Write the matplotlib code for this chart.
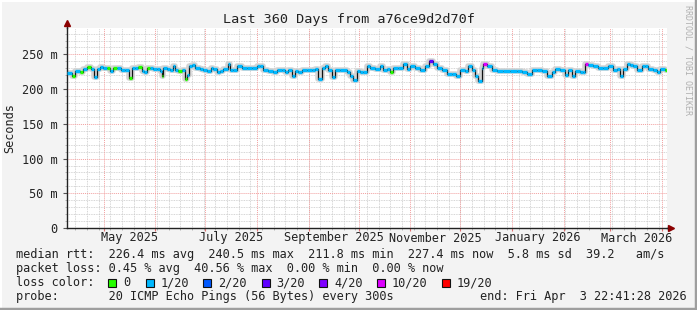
import datetime as dt
import matplotlib
matplotlib.use("Agg")
import matplotlib.pyplot as plt
from matplotlib.patches import Rectangle
from matplotlib.lines import Line2D
from matplotlib.transforms import blended_transform_factory

plt.rcParams['font.family'] = ['DejaVu Sans Mono']

# time axis: days since start of the 360 day window
start = dt.datetime(2025, 4, 8, 22, 41, 28)
end = dt.datetime(2026, 4, 3, 22, 41, 28)

days = [0, 3, 4.8, 7.8, 9.6, 12, 14.4, 16.2, 18, 19.8,
        21.6, 24, 25.8, 27.6, 30, 32.4, 34.8, 37.2, 39, 40.8,
        42.6, 45, 46.2, 48, 49.8, 51.6, 54, 55.8, 57, 57.6,
        60, 61.8, 63.6, 64.8, 66.6, 69, 70.8, 72, 73.2, 75,
        76.8, 79.8, 81.6, 84, 86.4, 87.6, 90, 91.8, 93.6, 96.6,
        97.8, 99.6, 102, 105, 108, 111, 114, 115.8, 117.6, 120.6,
        123.6, 126, 129, 130.8, 132.6, 135, 136.8, 138.6, 141, 144,
        147, 148.8, 150.6, 153, 154.8, 156.6, 159, 160.8, 163.8, 168,
        169.8, 171.6, 174, 175.8, 177.6, 180, 181.8, 184.8, 187.8, 189.6,
        192, 193.8, 195.6, 198.6, 201.6, 204, 205.8, 208.8, 211.8, 214.8,
        217.2, 219.6, 222, 225, 228, 231, 233.4, 235.8, 238.8, 240.6,
        243, 244.8, 246.6, 249, 249.6, 252, 255, 258, 261.6, 265.8,
        270, 273, 276, 279, 282, 285, 288, 291, 292.8, 295.8,
        298.8, 300.6, 303, 304.8, 307.8, 309.6, 310.8, 312.6, 315.6, 318.6,
        321.6, 324.6, 327.6, 330, 331.8, 333.6, 336, 337.8, 339.6, 342,
        345, 346.8, 348.6, 351.6, 354, 355.8, 358.8]

# median rtt in ms
median = [223, 219, 226, 225, 229, 232, 229, 218, 229, 232,
          230, 230, 226, 230, 231, 228, 228, 216, 231, 230,
          232, 226, 224, 231, 230, 229, 229, 226, 219, 231,
          229, 228, 234, 227, 226, 228, 215, 220, 233, 235,
          231, 229, 227, 226, 231, 229, 224, 226, 229, 236,
          228, 227, 233, 231, 230, 231, 234, 233, 227, 226,
          224, 227, 228, 224, 227, 219, 226, 224, 228, 228,
          227, 229, 215, 231, 233, 228, 218, 228, 227, 225,
          219, 213, 226, 224, 225, 233, 231, 229, 233, 227,
          229, 224, 231, 231, 236, 229, 234, 231, 227, 233,
          240.5, 236, 231, 227, 222, 222, 219, 227, 226, 233,
          227, 219, 211.8, 231, 236, 233, 227, 226, 226, 226,
          226, 224, 222, 227, 227, 226, 219, 224, 229, 227,
          221, 227, 219, 226, 224, 225, 236, 235, 233, 231,
          230, 233, 227, 229, 219, 229, 236, 235, 233, 228,
          233, 234, 229, 227, 225, 229, 227.4]

# loss class per point (index into loss_colors)
loss = [1, 0, 1, 0, 1, 0, 1, 1, 1, 1,
        1, 0, 1, 0, 1, 1, 1, 0, 1, 1,
        0, 1, 1, 0, 1, 1, 1, 1, 0, 1,
        1, 1, 1, 1, 0, 1, 0, 1, 1, 1,
        1, 1, 1, 1, 1, 1, 1, 1, 1, 1,
        1, 1, 1, 1, 1, 1, 1, 1, 1, 1,
        1, 1, 1, 1, 1, 1, 1, 1, 1, 1,
        1, 1, 1, 1, 1, 1, 1, 1, 1, 1,
        1, 1, 1, 1, 1, 1, 1, 1, 1, 1,
        1, 0, 1, 1, 1, 1, 1, 1, 1, 1,
        3, 1, 1, 1, 1, 1, 1, 1, 1, 1,
        1, 1, 1, 1, 5, 1, 1, 1, 1, 1,
        1, 1, 1, 1, 1, 1, 1, 1, 1, 1,
        1, 1, 1, 1, 1, 1, 5, 1, 1, 1,
        1, 1, 1, 1, 1, 1, 1, 1, 1, 1,
        1, 1, 1, 1, 1, 1, 0]

loss_labels = ['0', '1/20', '2/20', '3/20', '4/20', '10/20', '19/20']
loss_colors = ['#26ff00', '#00b8ff', '#0059ff', '#5e00ff', '#7e00ff', '#dd00ff', '#ff0000']

yticks = [0, 50, 100, 150, 200, 250]
month_labels = ['May 2025', 'July 2025', 'September 2025', 'November 2025',
                'January 2026', 'March 2026']

legend_lines = [
    'median rtt:  226.4 ms avg  240.5 ms max  211.8 ms min  227.4 ms now  5.8 ms sd  39.2   am/s',
    'packet loss: 0.45 % avg  40.56 % max  0.00 % min  0.00 % now',
    'loss color:',
    'probe:       20 ICMP Echo Pings (56 Bytes) every 300s',
]

total = (end - start).total_seconds() / 86400.0
FS = 8.55


def dday(d):
    return (d - start).total_seconds() / 86400.0


W, H = 697, 310
fig = plt.figure(figsize=(W / 100, H / 100), dpi=100)
fig.patch.set_facecolor('#f3f3f3')

# 3d-ish frame
fig.add_artist(Line2D([0.5 / W, 0.5 / W], [0, 1], color='#ffffff', lw=1.5))
fig.add_artist(Line2D([0, 1], [1 - 0.5 / H, 1 - 0.5 / H], color='#ffffff', lw=1.5))
fig.add_artist(Line2D([1 - 1.5 / W, 1 - 1.5 / W], [0, 1], color='#9e9e9e', lw=2.5))
fig.add_artist(Line2D([0, 1], [1.5 / H, 1.5 / H], color='#9e9e9e', lw=2.5))

ax = fig.add_axes([67 / W, 82 / H, 600 / W, 200 / H])
ax.set_facecolor('white')
ax.set_xlim(0, total)
ax.set_ylim(0, 288)

# grid positions from the calendar
month_starts = []
d = dt.datetime(2025, 5, 1)
while d < end:
    month_starts.append(dday(d))
    d = dt.datetime(d.year + (d.month == 12), d.month % 12 + 1, 1)
weeks = []
d = dt.datetime(2025, 4, 14)
while d < end:
    weeks.append(dday(d))
    d += dt.timedelta(days=7)

for x in weeks:
    ax.axvline(x, color='#c8c8c8', lw=0.6, ls=(0, (1, 1)), zorder=0)
for y in range(10, 290, 10):
    if y % 50:
        ax.axhline(y, color='#c8c8c8', lw=0.6, ls=(0, (1, 1)), zorder=0)
for x in month_starts:
    ax.axvline(x, color='#f2a0a0', lw=0.7, ls=(0, (1, 1)), zorder=0.5)
for y in yticks[1:]:
    ax.axhline(y, color='#f2a0a0', lw=0.7, ls=(0, (1, 1)), zorder=0.5)

# smoke, median and loss colours
step_x = days + [total]
ax.step(step_x, median + [median[-1]], where='post', color='#d4d4d4', lw=4, zorder=1)
ax.step(step_x, median + [median[-1]], where='post', color='#111111', lw=0.9, zorder=2)
ax.hlines(median, days, step_x[1:], colors=[loss_colors[i] for i in loss], lw=2.4, zorder=3)

ax.set_xticks(month_starts)
ax.set_xticks(weeks, minor=True)
ax.set_xticklabels([])
ax.set_yticks(yticks)
ax.set_yticks(range(0, 290, 10), minor=True)
ax.set_yticklabels(['0' if v == 0 else '%d m' % v for v in yticks], fontsize=FS,
                   color='#222222')
ax.tick_params(axis='y', which='major', length=3, color='#555555', pad=4)
ax.tick_params(axis='y', which='minor', length=1.5, color='#aaaaaa')
ax.tick_params(axis='x', which='major', length=2.5, color='#e07070')
ax.tick_params(axis='x', which='minor', length=1.5, color='#aaaaaa')
for s in ['top', 'right']:
    ax.spines[s].set_visible(False)
for s in ['left', 'bottom']:
    ax.spines[s].set_color('#222222')
    ax.spines[s].set_linewidth(1)

# axis arrows
ax.plot([0, 0], [1, 1.025], color='#222222', lw=1, transform=ax.transAxes, clip_on=False)
ax.plot(0, 1.025, marker='^', color='#8b0000', ms=4, transform=ax.transAxes, clip_on=False)
ax.plot([1, 1.006], [0, 0], color='#222222', lw=1, transform=ax.transAxes, clip_on=False)
ax.plot(1.006, 0, marker='>', color='#8b0000', ms=4, transform=ax.transAxes, clip_on=False)

# month labels centred on the month
trans = blended_transform_factory(ax.transData, ax.transAxes)
for i, lab in enumerate(month_labels):
    a = month_starts[2 * i]
    b = month_starts[2 * i + 1] if 2 * i + 1 < len(month_starts) else a + 30.5
    ax.text((a + b) / 2, -10 / 200, lab, transform=trans, ha='center', va='center',
            fontsize=FS, color='#222222')

fig.text(10 / W, 1 - 128 / H, 'Seconds', rotation=90, ha='center', va='center',
         fontsize=FS, color='#222222')
fig.text(348.5 / W, 1 - 19 / H, 'Last 360 Days from a76ce9d2d70f', ha='center', va='center',
         fontsize=9.7, color='#222222')
fig.text(688 / W, 1 - 5 / H, 'RRDTOOL / TOBI OETIKER', rotation=-90, ha='center', va='top',
         fontsize=6, color='#b0b0b0')

# legend block
cw = 7.1
ys = [254.5, 268.5, 282.5, 296.5]
for y, line in zip(ys, legend_lines):
    fig.text(16 / W, 1 - y / H, line, ha='left', va='center', fontsize=FS, color='#222222')
box_idx = [13, 18.3, 26.3, 34.6, 42.7, 50.8, 60]
for i, (lab, col) in enumerate(zip(loss_labels, loss_colors)):
    x0 = 16 + box_idx[i] * cw
    fig.add_artist(Rectangle((x0 / W, 1 - (ys[2] + 4) / H), 8 / W, 8 / H,
                             facecolor=col, edgecolor='#111111', lw=0.8))
    fig.text((x0 + 15) / W, 1 - ys[2] / H, lab, ha='left', va='center', fontsize=FS,
             color='#222222')
fig.text(479.5 / W, 1 - ys[3] / H, 'end: Fri Apr  3 22:41:28 2026', ha='left', va='center',
         fontsize=FS, color='#222222')

fig.savefig('out.png', dpi=100, facecolor=fig.get_facecolor())
